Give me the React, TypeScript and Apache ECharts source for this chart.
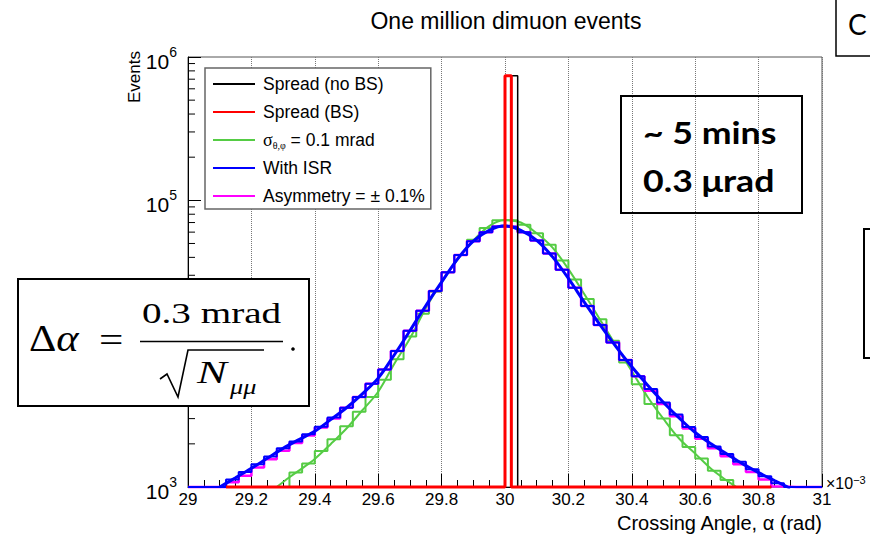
import React, { useEffect, useRef } from "react";
import * as echarts from "echarts";

// ---- axis ranges / ticks ----
const X_MIN = 29;
const X_MAX = 31;
const Y_MIN = 1000;
const Y_MAX = 1000000;
const xTickLabels = ["29", "29.2", "29.4", "29.6", "29.8", "30", "30.2", "30.4", "30.6", "30.8", "31"];
const yMinorTicks = [2000, 3000, 4000, 5000, 6000, 7000, 8000, 9000, 20000, 30000, 40000, 50000, 60000, 70000, 80000, 90000, 200000, 300000, 400000, 500000, 600000, 700000, 800000, 900000];

// ---- histograms (50 bins of 0.04 from 29.00) ----
const binStart = 29.0;
const binWidth = 0.04;
const blueHist = [760, 880, 1000, 1130, 1270, 1440, 1630, 1860, 2080, 2330, 2630, 3050, 3570, 4250, 5250, 6600, 8900, 12300, 17000, 23300, 31500, 41500, 51900, 60000, 65800, 65500, 60000, 52500, 42500, 32800, 24600, 18300, 13500, 10200, 7700, 5930, 4820, 3890, 3200, 2620, 2230, 1920, 1700, 1500, 1330, 1190, 1060, 980, 850, 730];
const magentaHist = [760, 880, 1000, 1080, 1200, 1370, 1560, 1790, 2030, 2290, 2600, 3000, 3570, 4250, 5250, 6600, 8900, 12300, 17000, 23300, 31500, 41500, 51900, 60000, 65800, 65500, 60000, 52500, 42500, 32800, 24600, 18300, 13500, 10200, 7700, 5930, 4700, 3800, 3120, 2560, 2170, 1860, 1640, 1440, 1270, 1130, 1010, 980, 850, 730];
const greenHist = [0, 0, 0, 0, 0, 0, 0, 960, 1260, 1460, 1780, 2150, 2650, 3350, 4250, 5600, 7800, 11200, 16200, 23000, 31500, 41500, 53000, 64000, 72500, 72500, 67500, 59000, 49000, 38000, 28000, 20500, 14800, 10500, 7400, 5200, 3800, 3000, 2300, 1900, 1580, 1300, 1120, 970, 0, 0, 0, 0, 0, 0];
const blackEdges = [29.12, 30.0, 30.04, 30.84];
const blackCounts = [0, 740000, 0];
const redEdges = [29.12, 30.0, 30.02, 30.84];
const redCounts = [0, 740000, 0];

// ---- fitted curves ----
const blueFitX = [29.1, 29.15, 29.2, 29.25, 29.3, 29.35, 29.4, 29.45, 29.5, 29.55, 29.6, 29.65, 29.7, 29.75, 29.8, 29.85, 29.9, 29.95, 30.0, 30.05, 30.1, 30.15, 30.2, 30.25, 30.3, 30.35, 30.4, 30.45, 30.5, 30.55, 30.6, 30.65, 30.7, 30.75, 30.8, 30.85, 30.9];
const blueFitY = [1000, 1160, 1350, 1585, 1860, 2140, 2450, 2950, 3570, 4470, 5750, 8300, 12300, 18400, 26900, 38900, 51900, 61700, 66400, 61700, 52500, 40300, 28500, 19500, 13500, 9550, 6900, 5130, 3890, 3020, 2400, 2000, 1700, 1450, 1260, 1110, 980];
const greenFitX = [29.28, 29.32, 29.36, 29.4, 29.45, 29.5, 29.55, 29.6, 29.65, 29.7, 29.75, 29.8, 29.85, 29.9, 29.95, 30.0, 30.05, 30.1, 30.15, 30.2, 30.25, 30.3, 30.35, 30.4, 30.45, 30.5, 30.55, 30.6, 30.65, 30.7, 30.73];
const greenFitY = [1000, 1170, 1350, 1570, 1990, 2560, 3430, 4620, 7190, 10870, 17660, 26800, 38500, 52400, 66100, 72800, 70000, 58900, 46800, 33100, 22200, 14700, 9700, 6430, 4250, 2985, 2170, 1710, 1340, 1107, 1000];

const legendNames = ["Spread (no BS)", "Spread (BS)", "SIGMA", "With ISR", "Asymmetry = ± 0.1%"];

const SANS = '"Liberation Sans", Arial, sans-serif';
const SERIF = '"Liberation Serif", "Times New Roman", serif';

function uniformEdges(n: number): number[] {
  const e: number[] = [];
  for (let i = 0; i <= n; i++) e.push(+(binStart + i * binWidth).toFixed(3));
  return e;
}

function stepPoints(edges: number[], counts: number[]): number[][] {
  const pts: number[][] = [[edges[0], Y_MIN]];
  counts.forEach((c, i) => {
    const y = Math.max(c, Y_MIN);
    pts.push([edges[i], y], [edges[i + 1], y]);
  });
  pts.push([edges[edges.length - 1], Y_MIN]);
  return pts;
}

function fitPoints(xs: number[], ys: number[]): number[][] {
  return xs.map((x, i) => [x, ys[i]]);
}

function txt(x: number, y: number, text: string, font: string, align: string, extra: any = {}) {
  return {
    type: "text",
    x,
    y,
    z: 100,
    ...extra,
    style: {
      text,
      font,
      fill: "#000",
      align,
      textAlign: align,
      verticalAlign: "middle",
      textVerticalAlign: "middle",
      ...(extra.style || {}),
    },
  };
}

export default function App() {
  const ref = useRef<HTMLDivElement>(null);
  useEffect(() => {
    if (!ref.current) return;
    const chart = echarts.init(ref.current, null, { renderer: "svg" });
    const edges = uniformEdges(blueHist.length);

    const histSeries = (name: string, e: number[], c: number[], color: string, width: number, z: number) => ({
      name,
      type: "line",
      data: stepPoints(e, c),
      symbol: "none",
      showSymbol: false,
      clip: false,
      silent: true,
      z,
      itemStyle: { color },
      lineStyle: { color, width },
    });
    const fitSeries = (name: string, xs: number[], ys: number[], color: string, width: number, z: number) => ({
      name,
      type: "line",
      data: fitPoints(xs, ys),
      symbol: "none",
      showSymbol: false,
      smooth: 0.35,
      clip: true,
      silent: true,
      z,
      itemStyle: { color },
      lineStyle: { color, width },
    });

    const option: any = {
      animation: false,
      grid: { left: 188, right: 48, top: 57, bottom: 49, show: true, borderColor: "#555", borderWidth: 1 },
      xAxis: {
        type: "value",
        min: X_MIN,
        max: X_MAX,
        interval: 0.2,
        axisLine: { lineStyle: { color: "#000", width: 1 } },
        axisTick: { inside: true, length: 13, lineStyle: { color: "#000" } },
        minorTick: { show: true, splitNumber: 4, length: 7, lineStyle: { color: "#000" } },
        axisLabel: {
          formatter: (_v: number, i: number) => xTickLabels[i] ?? "",
          fontSize: 17,
          fontFamily: SANS,
          color: "#000",
          margin: 4,
        },
        splitLine: { show: true, lineStyle: { type: "dotted", color: "#777", width: 1 } },
      },
      yAxis: {
        type: "log",
        logBase: 10,
        min: Y_MIN,
        max: Y_MAX,
        axisLine: { show: true, lineStyle: { color: "#000", width: 1 } },
        axisTick: { show: true, inside: true, length: 13, lineStyle: { color: "#000" } },
        axisLabel: {
          formatter: (v: number) => `{b|10}{s|${Math.round(Math.log10(v))}}`,
          margin: 11,
          rich: {
            b: { fontSize: 21, fontFamily: SANS, color: "#000", lineHeight: 24, padding: [9, 0, 0, 0] },
            s: { fontSize: 14, fontFamily: SANS, color: "#000", verticalAlign: "top", lineHeight: 24 },
          },
        },
        splitLine: { show: false },
      },
      legend: {
        orient: "vertical",
        left: 205,
        top: 68,
        data: legendNames,
        selectedMode: false,
        backgroundColor: "#fff",
        borderColor: "#666",
        borderWidth: 1.5,
        padding: [6, 6, 3, 8],
        itemGap: 8,
        itemWidth: 42,
        itemHeight: 2,
        icon: "rect",
        formatter: (name: string) => (name === "SIGMA" ? "{g|σ}{sub|θ,φ}{t| = 0.1 mrad}" : name),
        textStyle: {
          fontSize: 17.5,
          fontFamily: SANS,
          color: "#000",
          lineHeight: 20,
          padding: [0, 0, 0, 3],
          rich: {
            g: { fontSize: 18, fontFamily: SERIF, color: "#000", lineHeight: 20 },
            sub: { fontSize: 10, fontFamily: SERIF, color: "#000", verticalAlign: "bottom", lineHeight: 14 },
            t: { fontSize: 17.5, fontFamily: SANS, color: "#000", lineHeight: 20 },
          },
        },
      },
      series: [
        histSeries("SIGMA", edges, greenHist, "#55cc44", 2, 2),
        fitSeries("greenFit", greenFitX, greenFitY, "#55cc44", 2, 3),
        histSeries("Asymmetry = ± 0.1%", edges, magentaHist, "#ff00ff", 2.5, 4),
        histSeries("With ISR", edges, blueHist, "#0000ff", 2, 5),
        fitSeries("blueFit", blueFitX, blueFitY, "#0000ff", 3, 6),
        histSeries("Spread (no BS)", blackEdges, blackCounts, "#000000", 1.5, 7),
        histSeries("Spread (BS)", redEdges, redCounts, "#ff0000", 3, 8),
        {
          name: "yMinor",
          type: "custom",
          silent: true,
          clip: false,
          z: 9,
          data: yMinorTicks.map((v) => [X_MIN, v]),
          renderItem: (_p: any, api: any) => {
            const p = api.coord([api.value(0), api.value(1)]);
            return {
              type: "line",
              shape: { x1: p[0], y1: p[1], x2: p[0] + 7, y2: p[1] },
              style: { stroke: "#000", lineWidth: 1 },
            };
          },
        },
      ],
      graphic: [
        txt(506, 21, "One million dimuon events", `23px ${SANS}`, "center"),
        txt(134, 51, "Events", `17px ${SANS}`, "right", { rotation: Math.PI / 2 }),
        txt(822, 523, "Crossing Angle, α (rad)", `20px ${SANS}`, "right"),
        {
          type: "text",
          x: 826,
          y: 483,
          z: 100,
          style: {
            text: "{a|×10}{b|−3}",
            align: "left",
            textAlign: "left",
            verticalAlign: "middle",
            textVerticalAlign: "middle",
            rich: {
              a: { font: `16px ${SANS}`, fill: "#000", lineHeight: 18 },
              b: { font: `11px ${SANS}`, fill: "#000", verticalAlign: "top", lineHeight: 18 },
            },
          },
        },
        // formula box
        {
          type: "rect",
          z: 100,
          shape: { x: 18, y: 279, width: 291, height: 127 },
          style: { fill: "#fff", stroke: "#000", lineWidth: 2 },
        },
        {
          type: "text",
          x: 29,
          y: 338,
          z: 101,
          scaleX: 1.15,
          style: {
            text: "{u|Δ}{i|α}",
            align: "left",
            textAlign: "left",
            verticalAlign: "middle",
            textVerticalAlign: "middle",
            rich: {
              u: { font: `37px ${SERIF}`, fill: "#000" },
              i: { font: `italic 37px ${SERIF}`, fill: "#000" },
            },
          },
        },
        txt(99, 340, "=", `36px ${SERIF}`, "left", { z: 101, scaleX: 1.2 }),
        txt(142, 313, "0.3 mrad", `29px ${SERIF}`, "left", { z: 101, scaleX: 1.35 }),
        { type: "line", z: 101, shape: { x1: 140, y1: 341.5, x2: 283, y2: 341.5 }, style: { stroke: "#000", lineWidth: 1.6 } },
        {
          type: "polyline",
          z: 101,
          shape: { points: [[160, 379], [167, 374], [178, 397], [188, 350], [264, 350]] },
          style: { stroke: "#000", lineWidth: 1.6, fill: null },
        },
        txt(197, 372, "N", `italic 32px ${SERIF}`, "left", { z: 101, scaleX: 1.4 }),
        txt(230, 387, "μμ", `italic 21px ${SERIF}`, "left", { z: 101, scaleX: 1.25 }),
        { type: "circle", z: 101, shape: { cx: 293, cy: 349, r: 1.8 }, style: { fill: "#000" } },
        // time box
        {
          type: "rect",
          z: 100,
          shape: { x: 621, y: 96, width: 181, height: 117 },
          style: { fill: null, stroke: "#000", lineWidth: 2 },
        },
        txt(643, 132, "~ 5 mins", `bold 31px Lato, ${SANS}`, "left", { scaleX: 1.15 }),
        txt(643, 180, "0.3 μrad", `bold 31px Lato, ${SANS}`, "left", { scaleX: 1.15 }),
        // cropped boxes at right edge
        {
          type: "rect",
          z: 100,
          shape: { x: 836, y: -5, width: 60, height: 61 },
          style: { fill: "#fff", stroke: "#000", lineWidth: 1.5 },
        },
        txt(848, 24, "C", `28px Lato, ${SANS}`, "left"),
        {
          type: "rect",
          z: 100,
          shape: { x: 864, y: 229, width: 40, height: 129 },
          style: { fill: "#fff", stroke: "#000", lineWidth: 2 },
        },
      ],
    };
    chart.setOption(option);
    return () => chart.dispose();
  }, []);

  return (
    <div
      ref={ref}
      style={{ position: "fixed", left: 0, top: 0, width: 870, height: 536, background: "#fff" }}
    />
  );
}
